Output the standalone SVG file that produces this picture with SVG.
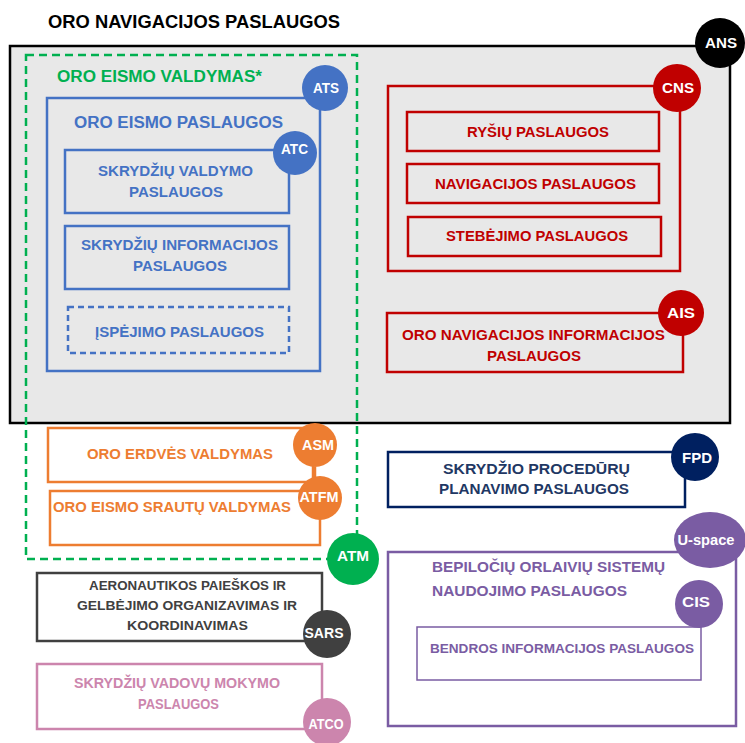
<svg xmlns="http://www.w3.org/2000/svg" width="745" height="743" viewBox="0 0 745 743">
<style>
text{font-family:"Liberation Sans",Arial,sans-serif;font-weight:bold;text-anchor:middle;dominant-baseline:central}
.blue{stroke:#4472c4;fill:none;stroke-width:2.5}
.bt{fill:#4472c4;font-size:14px}
.red{stroke:#c00000;fill:none;stroke-width:2.5}
.rt{fill:#c00000;font-size:14px}
.org{stroke:#ed7d31;fill:#fff;stroke-width:2.5}
.ot{fill:#ed7d31;font-size:14.5px}
.nt{fill:#1f3864;font-size:14px}
.pt{fill:#7a5ca3;font-size:14.5px}
.gt{fill:#404040;font-size:13.5px}
.kt{fill:#cc85ad;font-size:14px}
.ct{fill:#fff;font-size:14px}
</style>
<rect width="745" height="743" fill="#fff"/>
<text x="194" y="22" style="font-size:18px;fill:#000" textLength="292" lengthAdjust="spacingAndGlyphs">ORO NAVIGACIJOS PASLAUGOS</text>

<g id="ans">
<rect x="10" y="46" width="720" height="377" fill="#e8e8e8" stroke="#000" stroke-width="2.5"/>
<circle cx="720" cy="43" r="25" fill="#000"/>
<text x="721" y="43" class="ct" textLength="32" lengthAdjust="spacingAndGlyphs">ANS</text>
</g>

<g id="ats">
<rect x="47" y="98" width="273" height="273" class="blue"/>
<text x="178.5" y="122" class="bt" style="font-size:16px" textLength="209" lengthAdjust="spacingAndGlyphs">ORO EISMO PASLAUGOS</text>
<circle cx="325" cy="88" r="23" fill="#4472c4"/>
<text x="326" y="88" class="ct" textLength="26" lengthAdjust="spacingAndGlyphs">ATS</text>
</g>

<g id="atc">
<rect x="65" y="150" width="224" height="63" class="blue"/>
<text x="175.5" y="171" class="bt" textLength="155" lengthAdjust="spacingAndGlyphs">SKRYDŽIŲ VALDYMO</text>
<text x="176" y="192" class="bt" textLength="94" lengthAdjust="spacingAndGlyphs">PASLAUGOS</text>
<circle cx="295" cy="153" r="22" fill="#4472c4"/>
<text x="294.5" y="149" class="ct" textLength="27" lengthAdjust="spacingAndGlyphs">ATC</text>
</g>

<g id="fis">
<rect x="65" y="226" width="224" height="63" class="blue"/>
<text x="179.5" y="245" class="bt" textLength="197" lengthAdjust="spacingAndGlyphs">SKRYDŽIŲ INFORMACIJOS</text>
<text x="180" y="266" class="bt" textLength="94" lengthAdjust="spacingAndGlyphs">PASLAUGOS</text>
</g>

<g id="alert">
<rect x="68" y="307" width="221" height="46" class="blue" stroke-dasharray="6,4"/>
<text x="179.5" y="332" class="bt" textLength="169" lengthAdjust="spacingAndGlyphs">ĮSPĖJIMO PASLAUGOS</text>
</g>

<g id="cns">
<rect x="388" y="86" width="292" height="185" class="red"/>
<circle cx="677" cy="88" r="24" fill="#c00000"/>
<text x="678" y="88" class="ct" textLength="32" lengthAdjust="spacingAndGlyphs">CNS</text>
</g>
<g id="com"><rect x="407" y="112" width="252" height="39" class="red"/><text x="538" y="132" class="rt" textLength="142" lengthAdjust="spacingAndGlyphs">RYŠIŲ PASLAUGOS</text></g>
<g id="nav"><rect x="407" y="164" width="252" height="39" class="red"/><text x="535.5" y="184" class="rt" textLength="201" lengthAdjust="spacingAndGlyphs">NAVIGACIJOS PASLAUGOS</text></g>
<g id="sur"><rect x="408" y="217" width="253" height="39" class="red"/><text x="537" y="236" class="rt" textLength="182" lengthAdjust="spacingAndGlyphs">STEBĖJIMO PASLAUGOS</text></g>

<g id="ais">
<rect x="387" y="313" width="296" height="59" class="red"/>
<text x="533.5" y="335" class="rt" textLength="263" lengthAdjust="spacingAndGlyphs">ORO NAVIGACIJOS INFORMACIJOS</text>
<text x="534" y="356" class="rt" textLength="94" lengthAdjust="spacingAndGlyphs">PASLAUGOS</text>
<circle cx="681" cy="313" r="23" fill="#c00000"/>
<text x="681" y="313" class="ct" textLength="28" lengthAdjust="spacingAndGlyphs">AIS</text>
</g>

<g id="asm">
<rect x="48" y="428" width="265" height="54" class="org"/>
<text x="180" y="454" class="ot" textLength="186" lengthAdjust="spacingAndGlyphs">ORO ERDVĖS VALDYMAS</text>
</g>
<g id="atfm">
<rect x="50" y="491" width="270" height="54" class="org"/>
<text x="172" y="507" class="ot" textLength="238" lengthAdjust="spacingAndGlyphs">ORO EISMO SRAUTŲ VALDYMAS</text>
</g>

<g id="atm">
<rect x="26" y="55" width="331" height="504" fill="none" stroke="#00b050" stroke-width="2.5" stroke-dasharray="8,5"/>
<text x="159.5" y="76" style="fill:#00b050;font-size:16px" textLength="205" lengthAdjust="spacingAndGlyphs">ORO EISMO VALDYMAS*</text>
<circle cx="353" cy="559" r="26" fill="#00b050"/>
<text x="353" y="556" class="ct" textLength="32" lengthAdjust="spacingAndGlyphs">ATM</text>
</g>

<g id="connectors">
<line x1="315" y1="467" x2="315" y2="478" stroke="#ed7d31" stroke-width="2.5"/>
</g>

<g id="asm-badge">
<circle cx="315" cy="445" r="22" fill="#ed7d31"/>
<text x="318" y="445" class="ct" textLength="32" lengthAdjust="spacingAndGlyphs">ASM</text>
</g>
<g id="atfm-badge">
<circle cx="320" cy="498" r="22" fill="#ed7d31"/>
<text x="319" y="497" class="ct" textLength="39" lengthAdjust="spacingAndGlyphs">ATFM</text>
</g>

<g id="fpd">
<rect x="388" y="452" width="297" height="55" fill="#fff" stroke="#002060" stroke-width="2.5"/>
<text x="536.5" y="469" class="nt" textLength="187" lengthAdjust="spacingAndGlyphs">SKRYDŽIO PROCEDŪRŲ</text>
<text x="534" y="489" class="nt" textLength="190" lengthAdjust="spacingAndGlyphs">PLANAVIMO PASLAUGOS</text>
<circle cx="695" cy="457" r="24" fill="#002060"/>
<text x="697" y="458" class="ct" textLength="30" lengthAdjust="spacingAndGlyphs">FPD</text>
</g>

<g id="uspace">
<rect x="388" y="552" width="348" height="174" fill="#fff" stroke="#7a5ca3" stroke-width="2.5"/>
<text x="548.5" y="567" class="pt" textLength="233" lengthAdjust="spacingAndGlyphs">BEPILOČIŲ ORLAIVIŲ SISTEMŲ</text>
<text x="529.5" y="591" class="pt" textLength="195" lengthAdjust="spacingAndGlyphs">NAUDOJIMO PASLAUGOS</text>
<ellipse cx="710" cy="540" rx="36" ry="28" fill="#7a5ca3"/>
<text x="706" y="540" class="ct" textLength="57" lengthAdjust="spacingAndGlyphs">U-space</text>
</g>

<g id="cis">
<rect x="417" y="627" width="284" height="53" fill="#fff" stroke="#7a5ca3" stroke-width="1.5"/>
<text x="562" y="648" class="pt" style="font-size:13.5px" textLength="264" lengthAdjust="spacingAndGlyphs">BENDROS INFORMACIJOS PASLAUGOS</text>
<circle cx="699" cy="604" r="24" fill="#7a5ca3"/>
<text x="696" y="602" class="ct" textLength="28" lengthAdjust="spacingAndGlyphs">CIS</text>
</g>

<g id="sars">
<rect x="37" y="573" width="285" height="68" fill="#fff" stroke="#404040" stroke-width="2.5"/>
<text x="187.5" y="585" class="gt" textLength="197" lengthAdjust="spacingAndGlyphs">AERONAUTIKOS PAIEŠKOS IR</text>
<text x="187" y="605" class="gt" textLength="220" lengthAdjust="spacingAndGlyphs">GELBĖJIMO ORGANIZAVIMAS IR</text>
<text x="187.5" y="625" class="gt" textLength="121" lengthAdjust="spacingAndGlyphs">KOORDINAVIMAS</text>
<circle cx="327" cy="634" r="24" fill="#404040"/>
<text x="324" y="633" class="ct" textLength="39" lengthAdjust="spacingAndGlyphs">SARS</text>
</g>

<g id="atco">
<rect x="37" y="664" width="285" height="65" fill="#fff" stroke="#cc85ad" stroke-width="2.5"/>
<text x="177" y="683" class="kt" textLength="206" lengthAdjust="spacingAndGlyphs">SKRYDŽIŲ VADOVŲ MOKYMO</text>
<text x="178.5" y="704" class="kt" textLength="81" lengthAdjust="spacingAndGlyphs">PASLAUGOS</text>
<circle cx="327" cy="722" r="24" fill="#cc85ad"/>
<text x="326" y="724" class="ct" textLength="35" lengthAdjust="spacingAndGlyphs">ATCO</text>
</g>
</svg>
